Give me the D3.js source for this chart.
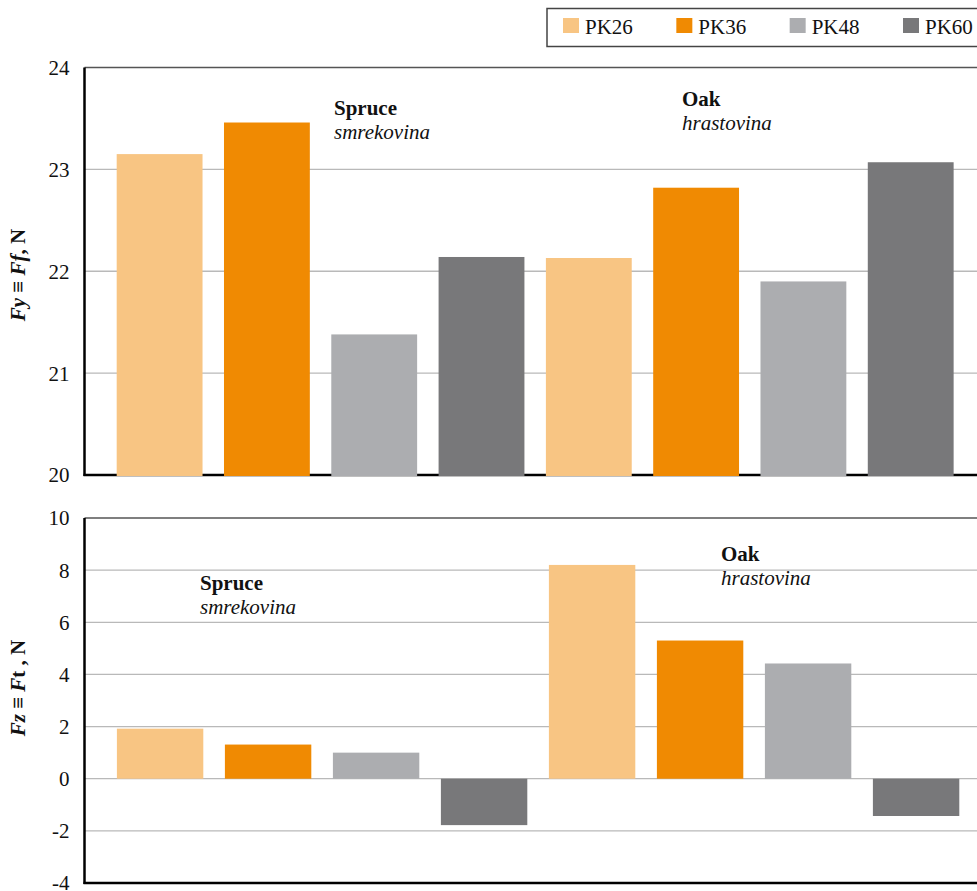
<!DOCTYPE html>
<html>
<head>
<meta charset="utf-8">
<script src="https://cdn.jsdelivr.net/npm/d3@7"></script>
</head>
<body style="margin:0;padding:0;background:#fff">
<svg id="chart" width="977" height="891" style="display:block"></svg>
<script>
// ---- data ----
const series = ["PK26", "PK36", "PK48", "PK60"];
const species = ["Spruce", "Oak"];
const speciesLocal = ["smrekovina", "hrastovina"];
const colors = ["#F8C583", "#F08A02", "#ACADB0", "#78787A"];
const fySpruce = [23.15, 23.46, 21.38, 22.14];
const fyOak = [22.13, 22.82, 21.90, 23.07];
const fzSpruce = [1.92, 1.31, 1.00, -1.78];
const fzOak = [8.20, 5.30, 4.42, -1.43];
const fyTicks = [20, 21, 22, 23, 24];
const fzTicks = [-4, -2, 0, 2, 4, 6, 8, 10];

const FAMILY = '"Liberation Serif", "Times New Roman", serif';
const FONT = 21;
const svg = d3.select("#chart").style("font-family", FAMILY);

function txt(sel) {
  return sel.style("font-family", FAMILY).style("font-size", FONT + "px").attr("fill", "#111");
}

function buildRows(a, b) {
  const rows = [];
  [a, b].forEach((vals, si) => vals.forEach((v, k) => rows.push({ key: species[si] + "-" + series[k], s: k, v })));
  return rows;
}

function panel(opts) {
  const { rows, domain, ticks, yRange, xRange, labelParts, labelY, notes } = opts;
  const g = svg.append("g");
  const x = d3.scaleBand().domain(rows.map(d => d.key)).range(xRange).paddingInner(0.2).paddingOuter(0.3);
  const y = d3.scaleLinear().domain(domain).range(yRange);
  const left = xRange[0];

  // gridlines
  g.append("g").selectAll("line").data(ticks.filter(t => t !== domain[0])).join("line")
    .attr("x1", left).attr("x2", 990)
    .attr("y1", d => y(d)).attr("y2", d => y(d))
    .attr("stroke", d => d === domain[1] ? "#555" : "#b9b9b9")
    .attr("stroke-width", 1.3);

  // tick labels
  const ax = g.append("g").attr("transform", `translate(${left - 15},0)`)
    .call(d3.axisLeft(y).tickValues(ticks).tickSize(0).tickPadding(0).tickFormat(d => String(d)));
  ax.select(".domain").remove();
  txt(ax.selectAll("text")).attr("dy", "0.33em");

  // axis lines
  g.append("line").attr("x1", left).attr("x2", left).attr("y1", y(domain[1])).attr("y2", y(domain[0]) + 1)
    .attr("stroke", "#000").attr("stroke-width", 2.5);
  g.append("line").attr("x1", left - 1).attr("x2", 990).attr("y1", y(domain[0])).attr("y2", y(domain[0]))
    .attr("stroke", "#000").attr("stroke-width", 2.5);

  // bars
  const base = Math.max(domain[0], 0);
  g.append("g").selectAll("rect").data(rows).join("rect")
    .attr("x", d => x(d.key)).attr("width", x.bandwidth())
    .attr("y", d => y(Math.max(d.v, base)))
    .attr("height", d => Math.abs(y(d.v) - y(base)) + (domain[0] > 0 ? 1 : 0))
    .attr("fill", d => colors[d.s]);

  // y title
  const t = txt(g.append("text")).attr("transform", `translate(25,${labelY}) rotate(-90)`)
    .attr("text-anchor", "middle").style("font-weight", "bold");
  labelParts.forEach(p => t.append("tspan").text(p[0])
    .style("font-style", p[1] ? "italic" : "normal").style("font-weight", p[2] ? "bold" : "normal"));

  // annotations
  notes.forEach((n, i) => {
    txt(g.append("text")).attr("x", n.x).attr("y", n.y).style("font-weight", "bold").text(species[i]);
    txt(g.append("text")).attr("x", n.x).attr("y", n.y + 24).style("font-style", "italic").text(speciesLocal[i]);
  });
}

panel({
  rows: buildRows(fySpruce, fyOak),
  domain: [20, 24], ticks: fyTicks,
  yRange: [475, 67.5], xRange: [84.5, 84.5 + 107.3 * 8.4],
  labelParts: [["Fy", true, true], [" \u2261 ", false, true], ["Ff", true, true], [", N", false, true]],
  labelY: 275,
  notes: [{ x: 334, y: 115 }, { x: 682, y: 106 }]
});

panel({
  rows: buildRows(fzSpruce, fzOak),
  domain: [-4, 10], ticks: fzTicks,
  yRange: [883, 518], xRange: [84.5, 84.5 + 108 * 8.4],
  labelParts: [["Fz", true, true], [" \u2261 ", false, true], ["F", true, true], ["t", false, true], [" , N", false, true]],
  labelY: 688,
  notes: [{ x: 200, y: 590 }, { x: 721, y: 561 }]
});

// legend
const lg = svg.append("g");
lg.append("rect").attr("x", 547).attr("y", 8.5).attr("width", 450).attr("height", 38)
  .attr("fill", "#fff").attr("stroke", "#444").attr("stroke-width", 1.5);
const legendX = d3.scalePoint().domain(series).range([563, 903]);
const items = lg.selectAll("g.item").data(series).join("g").attr("class", "item")
  .attr("transform", d => `translate(${legendX(d)},0)`);
items.append("rect").attr("x", 0).attr("y", 18).attr("width", 16).attr("height", 15).attr("fill", (d, i) => colors[i]);
txt(items.append("text")).attr("x", 22).attr("y", 34).text(d => d);
</script>
</body>
</html>
